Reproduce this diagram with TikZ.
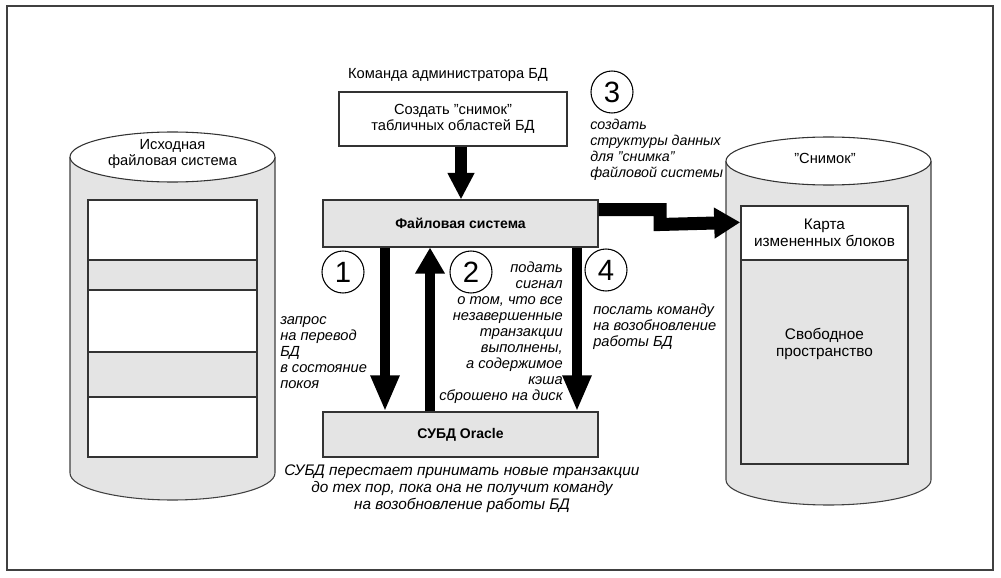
\documentclass[tikz,border=0pt]{standalone}
\usepackage{fontspec}
\setmainfont{Liberation Sans}
\usetikzlibrary{arrows.meta}
\definecolor{lgray}{HTML}{E4E4E4}
\definecolor{frm}{HTML}{404040}
\tikzset{
  box/.style={draw=black!80, line width=0.8pt, minimum width=#1, inner sep=0pt},
  lbl/.style={font=\fontsize{11pt}{12pt}\selectfont, inner sep=0pt, align=center},
  itl/.style={font=\fontsize{11pt}{12pt}\selectfont\itshape, inner sep=0pt},
  num/.style={circle, draw, line width=0.8pt, minimum size=31.5pt, inner sep=0pt, font=\fontsize{22pt}{22pt}\selectfont},
  fatdown/.style={line width=7.5pt, -{Triangle[length=27pt,width=20pt]}},
  fatup/.style={line width=7.5pt, -{Triangle[length=19.5pt,width=21pt]}},
  topdown/.style={line width=9pt, -{Triangle[length=20pt,width=19pt]}},
  stepar/.style={line width=9.75pt, miter limit=10, -{Triangle[length=19.5pt,width=22pt]}},
}
\begin{document}
\begin{tikzpicture}[x=0.75pt, y=-0.75pt]
\useasboundingbox (0,0) rectangle (1001,578);
% outer frame
\draw[frm, line width=1.5pt] (7,6) rectangle (993,570);

% ---------- left cylinder
\fill[lgray] (70,157) -- (70,473) arc[start angle=180, end angle=360, x radius=76.875pt, y radius=20.25pt] -- (275,157) -- cycle;
\draw[black!75, line width=0.8pt] (70,157) -- (70,473) arc[start angle=180, end angle=360, x radius=76.875pt, y radius=20.25pt] -- (275,157);
\draw[black!80, line width=0.8pt, fill=white] (172.5,157) ellipse[x radius=76.875pt, y radius=18.75pt];
\node[lbl] (srcfs) at (172.5,154) {Исходная\\файловая система};
\node[box={126.75pt}, minimum height=45pt, fill=white] (r1) at (172.5,230) {};
\node[box={126.75pt}, minimum height=22.5pt, fill=lgray] (r2) at (172.5,275) {};
\node[box={126.75pt}, minimum height=46.5pt, fill=white] (r3) at (172.5,321) {};
\node[box={126.75pt}, minimum height=33.75pt, fill=lgray] (r4) at (172.5,374.5) {};
\node[box={126.75pt}, minimum height=45pt, fill=white] (r5) at (172.5,427) {};

% ---------- right cylinder
\fill[lgray] (726,161) -- (726,480) arc[start angle=180, end angle=360, x radius=76.875pt, y radius=18.75pt] -- (931,161) -- cycle;
\draw[black!75, line width=0.8pt] (726,161) -- (726,480) arc[start angle=180, end angle=360, x radius=76.875pt, y radius=18.75pt] -- (931,161);
\draw[black!80, line width=0.8pt, fill=white] (828.5,161) ellipse[x radius=76.875pt, y radius=18pt];
\node[lbl] (snap) at (825,158) {"Снимок"};
\node[box={125.25pt}, minimum height=153pt, fill=lgray] (free) at (824.5,362) {};
\node[box={125.25pt}, minimum height=40.5pt, fill=white, line width=1.2pt, lbl, align=center, font=\fontsize{11.5pt}{12.75pt}\selectfont] (kb) at (824.5,233) {Карта\\измененных блоков};
\node[lbl, font=\fontsize{11.5pt}{12.75pt}\selectfont] (freetxt) at (824.5,344) {Свободное\\пространство};

% ---------- centre
\node[lbl] (admin) at (448,75) {Команда администратора БД};
\node[box={171pt}, minimum height=40.5pt, fill=white, lbl] (cmd) at (453,119) {Создать "снимок"\\табличных областей БД};
\node[box={206.25pt}, minimum height=35.25pt, fill=lgray, font=\fontsize{10.5pt}{12pt}\selectfont\bfseries] (fs) at (460.5,223.5) {Файловая система};
\node[box={206.25pt}, minimum height=33.75pt, fill=lgray, font=\fontsize{10.5pt}{12pt}\selectfont\bfseries] (db) at (460.5,434.5) {СУБД Oracle};

% arrows
\draw[topdown] (cmd.south -| 461,0) -- (fs.north -| 461,0);
\draw[fatdown] (fs.south -| 385,0) -- (db.north -| 385,0);
\draw[fatup] (db.north -| 430,0) -- (fs.south -| 430,0);
\draw[fatdown] (fs.south -| 577,0) -- (db.north -| 577,0);
\draw[stepar] ([yshift=10.5pt]fs.east) -- (660,209.5) -- (660,224.5) -- ([yshift=8pt]kb.west);

% numbers
\node[num] (n1) at (343,272) {1};
\node[num] (n2) at (471,272) {2};
\node[num] (n3) at (612,92) {3};
\node[num] (n4) at (606,270) {4};

% labels
\node[itl, align=left, anchor=north west] (t1) at (280,316) {запрос\\на перевод\\БД\\в состояние\\покоя};
\node[itl, align=right, anchor=north east] (t2) at (563,262) {подать\\сигнал\\о том, что все\\незавершенные\\транзакции\\выполнены,\\а содержимое\\кэша\\сброшено на диск};
\node[itl, align=left, anchor=north west, font=\fontsize{10.7pt}{12pt}\selectfont\itshape] (t3) at (590,119) {создать\\структуры данных\\для "снимка"\\файловой системы};
\node[itl, align=left, anchor=north west] (t4) at (593,304) {послать команду\\на возобновление\\работы БД};
\node[itl, align=center, anchor=north, font=\fontsize{11.5pt}{12.75pt}\selectfont\itshape] (t5) at (462,465) {СУБД перестает принимать новые транзакции\\до тех пор, пока она не получит команду\\на возобновление работы БД};
\end{tikzpicture}
\end{document}
